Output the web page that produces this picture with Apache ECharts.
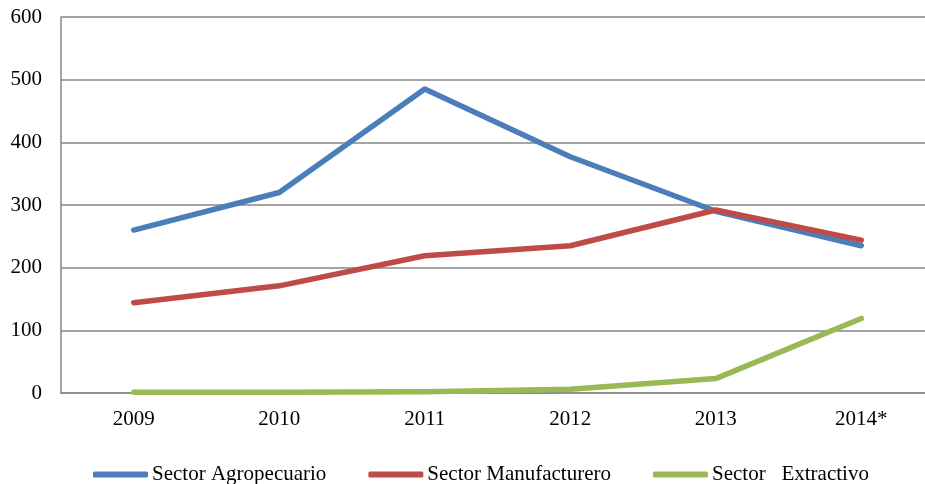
<!DOCTYPE html>
<html>
<head>
<meta charset="utf-8">
<script src="https://cdn.jsdelivr.net/npm/echarts@6/dist/echarts.min.js"></script>
<style>html,body{margin:0;padding:0;background:#fff;overflow:hidden}#c{width:934px;height:484px}</style>
</head>
<body>
<div id="c"></div>
<script>
var categories = ['2009', '2010', '2011', '2012', '2013', '2014*'];
var agropecuario = [260, 320, 485, 377, 290, 235];
var manufacturero = [144, 171, 219, 235, 292, 244];
var extractivo = [1, 1, 2, 6, 23, 119];
var yTicks = [0, 100, 200, 300, 400, 500, 600];

var font = 'Liberation Serif';
var chart = echarts.init(document.getElementById('c'));
function mk(name, data, color) {
  return {
    name: name, type: 'line', data: data, symbol: 'none',
    lineStyle: { color: color, width: 5.5, cap: 'round', join: 'round' },
    itemStyle: { color: color }
  };
}
chart.setOption({
  animation: false,
  backgroundColor: '#fff',
  grid: { left: 61, top: 17, right: 0, bottom: 91 },
  xAxis: {
    type: 'category', data: categories, boundaryGap: true,
    axisLine: { lineStyle: { color: '#868686', width: 1.5 } },
    axisTick: { show: false },
    axisLabel: { color: '#000', fontFamily: font, fontSize: 21, margin: 16 }
  },
  yAxis: {
    type: 'value', min: yTicks[0], max: yTicks[yTicks.length - 1], interval: 100,
    axisLine: { show: true, lineStyle: { color: '#868686', width: 1.5 } },
    axisTick: { show: false },
    splitLine: { lineStyle: { color: '#868686', width: 1.5 } },
    axisLabel: { color: '#000', fontFamily: font, fontSize: 21, margin: 19 }
  },
  legend: {
    left: 88, top: 459, itemGap: 42, itemWidth: 55, itemHeight: 6,
    icon: 'roundRect',
    textStyle: { color: '#000', fontFamily: font, fontSize: 21, padding: [0, 0, 0, -1] },
    data: ['Sector Agropecuario', 'Sector Manufacturero', 'Sector   Extractivo']
  },
  series: [
    mk('Sector Agropecuario', agropecuario, '#4A7EBB'),
    mk('Sector Manufacturero', manufacturero, '#BE4B48'),
    mk('Sector   Extractivo', extractivo, '#98B954')
  ]
});
</script>
</body>
</html>
